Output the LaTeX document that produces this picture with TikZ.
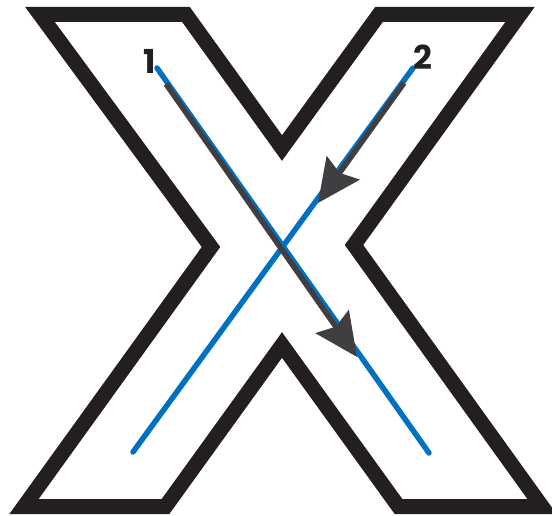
\documentclass[tikz,border=0pt]{standalone}
\usepackage{fontspec}
\usepackage{xcolor}
\usepackage{tikz}
\usetikzlibrary{arrows.meta}
\newfontfamily\digitfont{Poppins}
\definecolor{xblack}{RGB}{35,31,32}
\definecolor{xblue}{RGB}{0,112,192}
\definecolor{xgray}{RGB}{64,62,65}

\begin{document}
\begin{tikzpicture}[x=1pt,y=-1pt,
  outline/.style={line width=15pt,xblack,line join=miter},
  stroke/.style={line width=5.5pt,xblue,line cap=round},
  order/.style={line width=5.5pt,xgray,-{Stealth[length=43pt,width=40pt,inset=6pt]}},
  num/.style={text=xblack,font=\digitfont\bfseries\fontsize{33}{33}\selectfont,inner sep=0pt}]
\useasboundingbox (0,0) rectangle (552,516);
\draw[outline] (40,14.5) -- (186,14.5) -- (282,148) -- (379,14.5) -- (520,14.5) -- (354,245) -- (542,506.5) -- (398.5,506.5) -- (282,345) -- (165.5,506.5) -- (24,506.5) -- (211,247) -- cycle;
\coordinate (s1) at (157,68);
\coordinate (e1) at (429,453);
\coordinate (s2) at (413,68);
\coordinate (e2) at (133,452);
\coordinate (a1) at (166,84);
\coordinate (b1) at (357,357);
\coordinate (a2) at (404,83);
\coordinate (b2) at (318,203);
\draw[stroke] (s1) -- (e1);
\draw[stroke] (s2) -- (e2);
\draw[order] (a1) -- (b1);
\draw[order] (a2) -- (b2);
\node[num] (n1) at (150,61) {1};
\node[num] (n2) at (423,57) {2};
\end{tikzpicture}
\end{document}
